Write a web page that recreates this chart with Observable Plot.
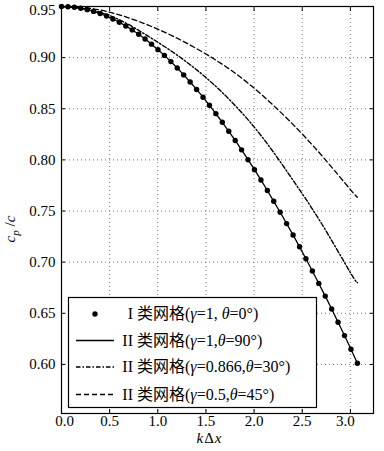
<!DOCTYPE html>
<html><head><meta charset="utf-8">
<script src="https://cdn.jsdelivr.net/npm/d3@7"></script>
<script src="https://cdn.jsdelivr.net/npm/@observablehq/plot@0.6"></script>
<style>
body{margin:0;background:#fff;}
#chart svg{display:block;background:#fff;}
#chart svg text{font-family:"Liberation Serif","Noto Sans CJK SC",serif;}
</style></head><body><div id="chart"></div>
<script>
// ---- data ----
const xTicks = [0, 0.5, 1, 1.5, 2, 2.5, 3];
const yTicks = [0.60, 0.65, 0.70, 0.75, 0.80, 0.85, 0.90, 0.95];

// sample points of the type-I grid curve (dots) and type-II gamma=1, theta=90 (solid, coincident)
const kDots = [0, 0.067, 0.134, 0.200, 0.267, 0.334, 0.401, 0.468, 0.534, 0.601, 0.668, 0.735, 0.802, 0.868, 0.935, 1.002, 1.069, 1.136, 1.202, 1.269, 1.336, 1.403, 1.470, 1.536, 1.603, 1.670, 1.737, 1.804, 1.870, 1.937, 2.004, 2.071, 2.138, 2.204, 2.271, 2.338, 2.405, 2.472, 2.538, 2.605, 2.672, 2.739, 2.806, 2.872, 2.939, 3.006, 3.073];
const cpTypeI = [0.950, 0.9498, 0.9492, 0.9483, 0.9469, 0.9452, 0.9431, 0.9407, 0.9378, 0.9346, 0.9310, 0.9271, 0.9228, 0.9182, 0.9132, 0.9078, 0.9022, 0.8961, 0.8898, 0.8831, 0.8762, 0.8689, 0.8613, 0.8534, 0.8452, 0.8368, 0.8280, 0.8190, 0.8098, 0.8002, 0.7904, 0.7804, 0.7701, 0.7595, 0.7488, 0.7377, 0.7265, 0.7150, 0.7033, 0.6914, 0.6792, 0.6668, 0.6542, 0.6413, 0.6282, 0.6148, 0.6012];
const cpTypeII_90 = [0.950, 0.9498, 0.9492, 0.9483, 0.9469, 0.9452, 0.9431, 0.9407, 0.9378, 0.9346, 0.9310, 0.9271, 0.9228, 0.9182, 0.9132, 0.9078, 0.9022, 0.8961, 0.8898, 0.8831, 0.8762, 0.8689, 0.8613, 0.8534, 0.8452, 0.8368, 0.8280, 0.8190, 0.8098, 0.8002, 0.7904, 0.7804, 0.7701, 0.7595, 0.7488, 0.7377, 0.7265, 0.7150, 0.7033, 0.6914, 0.6792, 0.6668, 0.6542, 0.6413, 0.6282, 0.6148, 0.6012];

const kCurve = [0, 0.3, 0.6, 0.9, 1.2, 1.5, 1.8, 2.1, 2.4, 2.7, 3.0, 3.073];
const cpTypeII_30 = [0.950, 0.9465, 0.937, 0.921, 0.9025, 0.8805, 0.8535, 0.8204, 0.7807, 0.7378, 0.6898, 0.680];
const cpTypeII_45 = [0.950, 0.9482, 0.9418, 0.9318, 0.9190, 0.9035, 0.8850, 0.8620, 0.8350, 0.8045, 0.7710, 0.7635];

const legendLabels = [
  ["I", "类网格(", "γ", "=1, ", "θ", "=0°)"],
  ["II", "类网格(", "γ", "=1,", "θ", "=90°)"],
  ["II", "类网格(", "γ", "=0.866,", "θ", "=30°)"],
  ["II", "类网格(", "γ", "=0.5,", "θ", "=45°)"]
];

// ---- build tables ----
const dots = kDots.map((k, i) => ({k, v: cpTypeI[i]}));
const solid = kDots.map((k, i) => ({k, v: cpTypeII_90[i]}));
const dashDot = kCurve.map((k, i) => ({k, v: cpTypeII_30[i]}));
const dashed = kCurve.map((k, i) => ({k, v: cpTypeII_45[i]}));

const FONT = "Liberation Serif, Noto Sans CJK SC, serif";
const gridStyle = {stroke: "#777", strokeOpacity: 1, strokeWidth: 1, strokeDasharray: "1,3"};
const xLab = {anchor: "bottom", tickSize: 0, tickPadding: 2, tickFormat: d3.format(".1f"), fontSize: 15, label: null};
const yLab = {anchor: "left", tickSize: 0, tickPadding: 6, tickFormat: d3.format(".2f"), fontSize: 15, label: null};

const chart = Plot.plot({
  width: 384, height: 451,
  marginLeft: 61, marginRight: 11, marginTop: 6, marginBottom: 38,
  style: {fontFamily: FONT, fontSize: "15px", color: "#000", background: "#fff"},
  x: {domain: [0, 3.24], label: null},
  y: {domain: [0.552, 0.95], label: null},
  marks: [
    Plot.gridX(xTicks, gridStyle),
    Plot.gridY(yTicks, gridStyle),
    Plot.line(solid, {x: "k", y: "v", stroke: "#000", strokeWidth: 1.3}),
    Plot.dot(dots, {x: "k", y: "v", r: 2.7, fill: "#000", stroke: null}),
    Plot.line(dashDot, {x: "k", y: "v", curve: "natural", stroke: "#000", strokeWidth: 1.4, strokeDasharray: "4.5,2,1.5,2"}),
    Plot.line(dashed, {x: "k", y: "v", curve: "natural", stroke: "#000", strokeWidth: 1.3, strokeDasharray: "5,3"}),
    Plot.frame({stroke: "#000", strokeWidth: 1.2}),
    Plot.axisX(xTicks.slice(1, -1), xLab),
    Plot.axisX(xTicks.slice(0, 1), {...xLab, dx: 3}),
    Plot.axisX(xTicks.slice(-1), {...xLab, dx: -5}),
    Plot.axisY(yTicks.slice(0, -1), yLab),
    Plot.axisY(yTicks.slice(-1), {...yLab, dy: 4}),
    Plot.axisX(xTicks, {anchor: "bottom", tickSize: -4, tickFormat: () => "", label: null}),
    Plot.axisX(xTicks, {anchor: "top", tickSize: -4, tickFormat: () => "", label: null}),
    Plot.axisY(yTicks, {anchor: "left", tickSize: -4, tickFormat: () => "", label: null}),
    Plot.axisY(yTicks, {anchor: "right", tickSize: -4, tickFormat: () => "", label: null})
  ]
});
document.getElementById("chart").appendChild(chart);

// ---- overlay: axis titles and legend ----
const svg = d3.select(chart);
const xl = svg.append("text").attr("x", 209).attr("y", 443).attr("text-anchor", "middle")
  .attr("font-size", 15);
xl.append("tspan").attr("font-style", "italic").text("k");
xl.append("tspan").attr("dx", 1).text("Δ");
xl.append("tspan").attr("dx", 1).attr("font-style", "italic").text("x");

const yl = svg.append("text").attr("transform", "translate(15,229) rotate(-90)").attr("text-anchor", "middle")
  .attr("font-size", 15);
yl.append("tspan").attr("font-style", "italic").text("c");
yl.append("tspan").attr("font-size", 11).attr("dy", 4).attr("font-style", "italic").text("p");
yl.append("tspan").attr("dy", -4).text(" /");
yl.append("tspan").attr("font-style", "italic").text("c");

const lg = svg.append("g").attr("font-size", 16).attr("text-anchor", "start");
lg.append("rect").attr("x", 68.5).attr("y", 297.5).attr("width", 248).attr("height", 110)
  .attr("fill", "#fff").attr("stroke", "#000").attr("stroke-width", 1.2);
const rowY = [314, 340.5, 367, 394.5];
const dashes = [null, null, "4.5,2,1.5,2", "5,3"];
rowY.forEach((y, i) => {
  if (i === 0) {
    lg.append("circle").attr("cx", 95).attr("cy", y).attr("r", 2.7).attr("fill", "#000");
  } else {
    const l = lg.append("line").attr("x1", 76).attr("x2", 114).attr("y1", y).attr("y2", y)
      .attr("stroke", "#000").attr("stroke-width", 1.3);
    if (dashes[i]) l.attr("stroke-dasharray", dashes[i]);
  }
  const parts = legendLabels[i];
  lg.append("text").attr("x", 133).attr("y", y + 5).attr("text-anchor", "end").text(parts[0]);
  const t = lg.append("text").attr("x", 137).attr("y", y + 5).attr("text-anchor", "start");
  t.append("tspan").text(parts[1]);
  t.append("tspan").attr("font-style", "italic").text(parts[2]);
  t.append("tspan").text(parts[3]);
  t.append("tspan").attr("font-style", "italic").text(parts[4]);
  t.append("tspan").text(parts[5]);
});
</script></body></html>
